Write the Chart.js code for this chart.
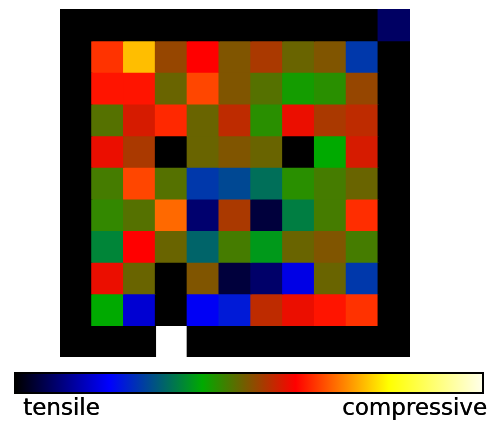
<!DOCTYPE html>
<html>
<head>
<meta charset="utf-8">
<script src="https://cdn.jsdelivr.net/npm/chart.js@4/dist/chart.umd.min.js"></script>
<style>
  html, body { margin: 0; padding: 0; background: #fff; }
  #wrap { position: relative; width: 495px; height: 421px; overflow: hidden; }
  #c { position: absolute; left: 0; top: 0; }
  #bar { position: absolute; left: 14px; top: 372px; width: 466px; height: 18px; border: 2px solid #000; }
  .lbl { position: absolute; top: 393px; font-family: "DejaVu Sans", sans-serif; font-size: 23px; color: #000; line-height: 28px; white-space: nowrap; text-shadow: 0.4px 0 0 #000; }
</style>
</head>
<body>
<div id="wrap">
  <canvas id="c" width="495" height="421"></canvas>
  <div id="bar"></div>
  <div class="lbl" id="lblL" style="left:23px;">tensile</div>
  <div class="lbl" id="lblR" style="left:342px;">compressive</div>
</div>
<script>
// ---- data (normalized stress, 0 = tensile, 1 = compressive; null = no cell) ----
const columns = [0, 1, 2, 3, 4, 5, 6, 7, 8, 9, 10];
const row0  = [0, 0, 0, 0, 0, 0, 0, 0, 0, 0, 0.078];
const row1  = [0, 0.64, 0.749, 0.518, 0.6, 0.5, 0.533, 0.482, 0.5, 0.266, 0];
const row2  = [0, 0.616, 0.616, 0.482, 0.655, 0.5, 0.467, 0.416, 0.432, 0.518, 0];
const row3  = [0, 0.467, 0.568, 0.631, 0.482, 0.549, 0.432, 0.584, 0.533, 0.549, 0];
const row4  = [0, 0.584, 0.533, 0, 0.482, 0.5, 0.482, 0, 0.4, 0.568, 0];
const row5  = [0, 0.454, 0.655, 0.467, 0.266, 0.285, 0.33, 0.432, 0.454, 0.482, 0];
const row6  = [0, 0.44, 0.467, 0.682, 0.086, 0.533, 0.047, 0.348, 0.454, 0.635, 0];
const row7  = [0, 0.356, 0.6, 0.482, 0.318, 0.454, 0.38, 0.482, 0.5, 0.454, 0];
const row8  = [0, 0.584, 0.482, 0, 0.5, 0.047, 0.082, 0.18, 0.482, 0.266, 0];
const row9  = [0, 0.4, 0.165, 0, 0.192, 0.231, 0.549, 0.584, 0.616, 0.639, 0];
const row10 = [0, 0, 0, null, 0, 0, 0, 0, 0, 0, 0];
const rows = [row0, row1, row2, row3, row4, row5, row6, row7, row8, row9, row10];

// colormap stops: position and rgb
const cmapPos = [0, 0.2, 0.4, 0.6, 0.8, 1.0];
const cmapRGB = [[0,0,0],[0,0,255],[0,170,0],[255,0,0],[255,255,0],[255,255,232]];
const legendLabels = ["tensile", "compressive"];

function cmap(v) {
  if (v === null || v === undefined) return 'rgba(0,0,0,0)';
  v = Math.max(0, Math.min(1, v));
  for (let i = 0; i < cmapPos.length - 1; i++) {
    if (v <= cmapPos[i+1]) {
      const t = (v - cmapPos[i]) / (cmapPos[i+1] - cmapPos[i]);
      const a = cmapRGB[i], b = cmapRGB[i+1];
      return 'rgb(' + [0,1,2].map(k => Math.round(a[k] + (b[k]-a[k])*t)).join(',') + ')';
    }
  }
  const l = cmapRGB[cmapRGB.length-1];
  return 'rgb(' + l.join(',') + ')';
}

// colorbar gradient from the same colormap
document.getElementById('bar').style.background =
  'linear-gradient(to right,' + cmapPos.map((p, i) => 'rgb(' + cmapRGB[i].join(',') + ') ' + (p*100) + '%').join(',') + ')';
document.getElementById('lblL').textContent = legendLabels[0];
document.getElementById('lblR').textContent = legendLabels[1];

const nRows = rows.length;
const datasets = rows.map((r, ri) => {
  const lo = nRows - 1 - ri;
  return {
    label: 'row ' + ri,
    data: r.map(v => v === null ? null : [lo, lo + 1]),
    backgroundColor: r.map(v => cmap(v)),
    borderWidth: 0,
    borderSkipped: false,
    inflateAmount: 0.6,
    barPercentage: 1.0,
    categoryPercentage: 1.0,
    grouped: false
  };
});

new Chart(document.getElementById('c'), {
  type: 'bar',
  data: { labels: columns, datasets: datasets },
  options: {
    responsive: false,
    animation: false,
    layout: { padding: { left: 60, right: 85, top: 9, bottom: 64 } },
    plugins: { legend: { display: false }, tooltip: { enabled: false } },
    scales: {
      x: { display: false, offset: true, grid: { display: false } },
      y: { display: false, min: 0, max: nRows, grid: { display: false } }
    }
  }
});
</script>
</body>
</html>
